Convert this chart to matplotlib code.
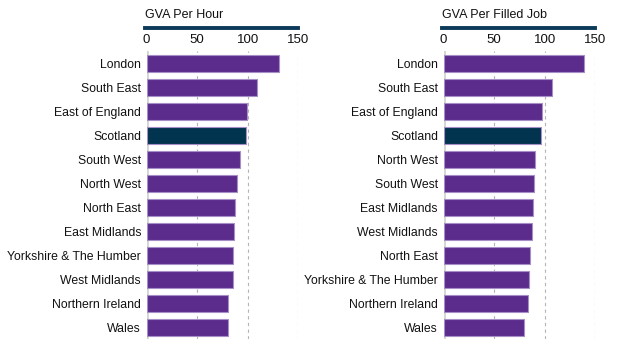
import matplotlib.pyplot as plt
from matplotlib.lines import Line2D

plt.rcParams['font.family'] = ['Liberation Sans', 'DejaVu Sans']

# GVA per hour
hour_regions = ["London", "South East", "East of England", "Scotland", "South West",
                "North West", "North East", "East Midlands", "Yorkshire & The Humber",
                "West Midlands", "Northern Ireland", "Wales"]
hour_values = [131.3, 108.9, 99.3, 98.4, 92.7, 89.8, 87.5, 86.8, 85.8, 85.1, 80.8, 80.5]

# GVA per filled job
job_regions = ["London", "South East", "East of England", "Scotland", "North West",
               "South West", "East Midlands", "West Midlands", "North East",
               "Yorkshire & The Humber", "Northern Ireland", "Wales"]
job_values = [138.8, 106.9, 97.7, 96.4, 90.5, 89.8, 88.2, 87.5, 85.5, 84.5, 83.9, 79.3]

ticks = [0, 50, 100, 150]
purple = "#5b2c8c"
scotland = "#03344f"
navy = "#0c3a58"

fig = plt.figure(figsize=(6.4, 3.51), dpi=100)


def panel(rect, title, regions, values):
    ax = fig.add_axes(rect)
    colors = [scotland if r == "Scotland" else purple for r in regions]
    y = list(range(len(regions)))
    ax.barh(y, values, height=0.7, color=colors, edgecolor="#a58fc6", linewidth=0.8, zorder=3)
    ax.set_xlim(0, 150)
    ax.set_ylim(len(regions) - 0.5, -0.5)
    ax.set_yticks(y)
    ax.set_yticklabels(regions, fontsize=8.8, color="#111111")
    ax.set_xticks(ticks)
    ax.set_xticklabels([str(t) for t in ticks], fontsize=9.5, color="#111111")
    ax.xaxis.tick_top()
    ax.tick_params(axis="both", length=0, pad=4)
    for s in ax.spines.values():
        s.set_visible(False)
    for t in ticks[1:]:
        ax.axvline(t, color="#b5b5b5", linestyle=(0, (3, 3)), linewidth=0.8, zorder=1)
    ax.axvline(0, color="#d4d4d4", linewidth=2.0, zorder=2)
    # title with underline
    x0 = rect[0] - 0.003
    x1 = rect[0] + rect[2]
    fig.add_artist(Line2D([x0, x1], [0.920, 0.920], color=navy, linewidth=2.8,
                          transform=fig.transFigure))
    fig.text(x0, 0.958, title, fontsize=9, color="#111111", ha="left", va="center")
    return ax


panel([0.229, 0.033, 0.237, 0.821], "GVA Per Hour", hour_regions, hour_values)
panel([0.693, 0.033, 0.237, 0.821], "GVA Per Filled Job", job_regions, job_values)

fig.savefig("out.png", dpi=100)
